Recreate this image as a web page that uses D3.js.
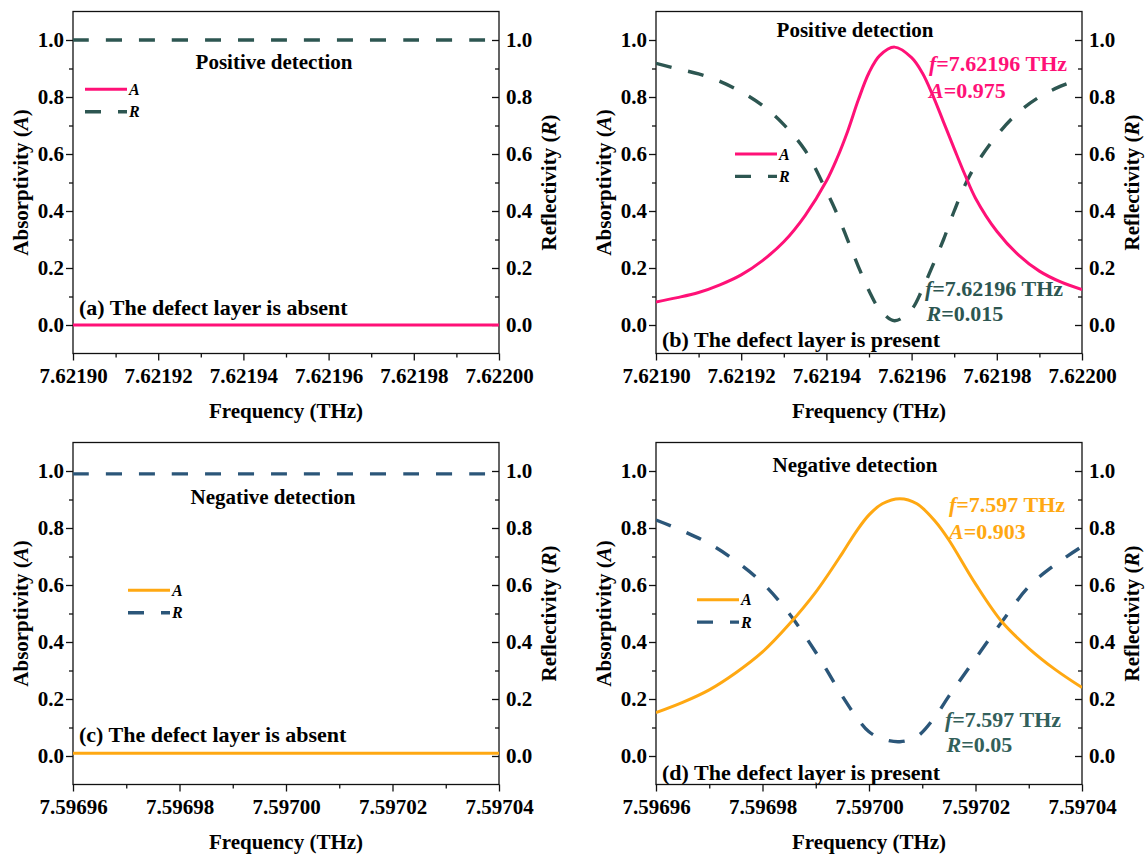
<!DOCTYPE html>
<html>
<head>
<meta charset="utf-8">
<script src="https://cdn.jsdelivr.net/npm/d3@7"></script>
<style>
  body { margin: 0; background: #fff; }
  svg { display: block; }
  text { font-family: "Liberation Serif", "Times New Roman", serif; font-weight: bold; }
</style>
</head>
<body>
<svg id="chart" width="1145" height="855"></svg>
<script>
// ---------- tick labels ----------
const ticksPos = ["7.62190", "7.62192", "7.62194", "7.62196", "7.62198", "7.62200"];
const ticksNeg = ["7.59696", "7.59698", "7.59700", "7.59702", "7.59704"];
const yTickLabels = ["0.0", "0.2", "0.4", "0.6", "0.8", "1.0"];

// ---------- (a) positive detection, defect layer absent ----------
const freqA = [7.62190, 7.62195, 7.62200];
const absA  = [0, 0, 0];
const refA  = [1, 1, 1];

// ---------- (b) positive detection, defect layer present ----------
const freqB = [7.621900, 7.621905, 7.621910, 7.621915, 7.621920, 7.621925, 7.621930, 7.621935,
               7.621940, 7.6219425, 7.621945, 7.6219475, 7.621950, 7.6219525, 7.621956, 7.621960,
               7.6219625, 7.621965, 7.6219675, 7.621970, 7.6219725, 7.621975, 7.621980, 7.621985,
               7.621990, 7.621995, 7.622000];
const absB  = [0.081, 0.096, 0.114, 0.141, 0.176, 0.226, 0.292, 0.384,
               0.505, 0.585, 0.680, 0.790, 0.885, 0.945, 0.975, 0.938,
               0.885, 0.805, 0.712, 0.619, 0.528, 0.445, 0.329, 0.247,
               0.189, 0.151, 0.124];
const refB  = [0.918, 0.899, 0.881, 0.855, 0.818, 0.770, 0.703, 0.613,
               0.470, 0.390, 0.298, 0.205, 0.120, 0.055, 0.015, 0.055,
               0.125, 0.210, 0.300, 0.400, 0.490, 0.560, 0.665, 0.745,
               0.800, 0.838, 0.866];

// ---------- (c) negative detection, defect layer absent ----------
const freqC = [7.59696, 7.59700, 7.59704];
const absC  = [0.01, 0.01, 0.01];
const refC  = [0.99, 0.99, 0.99];

// ---------- (d) negative detection, defect layer present ----------
const freqD = [7.596960, 7.596965, 7.596970, 7.596975, 7.596980, 7.596985, 7.596990, 7.596995,
               7.5969975, 7.597000, 7.5970025, 7.5970058, 7.597009, 7.5970125, 7.597015, 7.597020,
               7.597025, 7.597030, 7.597035, 7.597040];
const absD  = [0.152, 0.188, 0.232, 0.292, 0.365, 0.462, 0.575, 0.712,
               0.785, 0.846, 0.885, 0.903, 0.885, 0.822, 0.758, 0.604,
               0.470, 0.378, 0.303, 0.240];
const refD  = [0.828, 0.790, 0.745, 0.684, 0.607, 0.500, 0.364, 0.210,
               0.140, 0.085, 0.060, 0.050, 0.068, 0.140, 0.210, 0.342,
               0.472, 0.594, 0.672, 0.735];

// ---------- styling ----------
const COL = {
  pink: "#ff1177", teal: "#2d5651", orange: "#ffa812", blue: "#2b5679", tealText: "#33605a"
};
const DASH = "16,17";
const FONT_TICK = 21, FONT_TITLE = 21, FONT_LABEL = 22, FONT_ANN = 22, FONT_LEG = 16;

const svg = d3.select("#chart");
svg.append("rect").attr("width", 1145).attr("height", 855).attr("fill", "#fff");

// rich text helper: parts = [[string, italic], ...]
function richText(g, x, y, parts, size, color, anchor, rotate) {
  const t = g.append("text")
    .attr("x", x).attr("y", y).attr("dy", "0.35em")
    .attr("font-size", size).attr("fill", color || "#000")
    .attr("text-anchor", anchor || "start");
  if (rotate) t.attr("transform", `rotate(${rotate},${x},${y})`);
  parts.forEach(([s, it]) => {
    t.append("tspan").attr("font-style", it ? "italic" : "normal").text(s);
  });
  return t;
}

function midpoints(arr) {
  const out = [];
  for (let i = 0; i < arr.length - 1; i++) out.push((arr[i] + arr[i + 1]) / 2);
  return out;
}

const panels = [
  { key: "a", left: 73, top: 11.5, ticks: ticksPos, freq: freqA, abs: absA, ref: refA,
    cA: COL.pink, cR: COL.teal, title: "Positive detection", titleX: 274, titleY: 62,
    label: "(a) The defect layer is absent", labelX: 79, labelY: 307, legX: 85, legY: 89.3, ann: null },
  { key: "b", left: 656, top: 11.5, ticks: ticksPos, freq: freqB, abs: absB, ref: refB,
    cA: COL.pink, cR: COL.teal, title: "Positive detection", titleX: 855, titleY: 30,
    label: "(b) The defect layer is present", labelX: 662, labelY: 339, legX: 735, legY: 154,
    ann: { fDigits: 5, aDigits: 3, rDigits: 3, aX: 929, aY: 63.3, rX: 925, rY: 288, aColor: COL.pink, rColor: COL.teal } },
  { key: "c", left: 73, top: 442.5, ticks: ticksNeg, freq: freqC, abs: absC, ref: refC,
    cA: COL.orange, cR: COL.blue, title: "Negative detection", titleX: 273, titleY: 496.7,
    label: "(c) The defect layer is absent", labelX: 79, labelY: 734, legX: 128, legY: 590.3, ann: null },
  { key: "d", left: 656, top: 442.5, ticks: ticksNeg, freq: freqD, abs: absD, ref: refD,
    cA: COL.orange, cR: COL.blue, title: "Negative detection", titleX: 855, titleY: 464.5,
    label: "(d) The defect layer is present", labelX: 662, labelY: 772, legX: 697, legY: 599.7,
    ann: { fDigits: 3, aDigits: 3, rDigits: 2, aX: 949, aY: 504.5, rX: 945, rY: 719, aColor: COL.orange, rColor: COL.tealText } }
];

const PW = 426, PH = 342;

panels.forEach(p => {
  const g = svg.append("g");
  const right = p.left + PW, bottom = p.top + PH;
  const tickVals = p.ticks.map(Number);
  const x = d3.scaleLinear().domain([tickVals[0], tickVals[tickVals.length - 1]]).range([p.left, right]);
  const y = d3.scaleLinear().domain([-0.1, 1.1]).range([bottom, p.top]);
  const yVals = yTickLabels.map(Number);

  // clip for the curves
  const clipId = "clip-" + p.key;
  g.append("clipPath").attr("id", clipId).append("rect")
    .attr("x", p.left).attr("y", p.top).attr("width", PW).attr("height", PH);

  // bottom axis (outward ticks)
  const gx = g.append("g").attr("transform", `translate(0,${bottom})`);
  gx.call(d3.axisBottom(x).tickValues(tickVals).tickFormat((d, i) => p.ticks[i])
      .tickSize(7).tickPadding(8).tickSizeOuter(0));
  gx.append("g").call(d3.axisBottom(x).tickValues(midpoints(tickVals)).tickFormat("")
      .tickSize(4).tickSizeOuter(0));

  // left axis (outward ticks)
  const gl = g.append("g").attr("transform", `translate(${p.left},0)`);
  gl.call(d3.axisLeft(y).tickValues(yVals).tickFormat((d, i) => yTickLabels[i])
      .tickSize(7).tickPadding(2).tickSizeOuter(0));
  gl.append("g").call(d3.axisLeft(y).tickValues(midpoints(yVals)).tickFormat("")
      .tickSize(4).tickSizeOuter(0));

  // right axis (inward ticks)
  const gr = g.append("g").attr("transform", `translate(${right},0)`);
  gr.call(d3.axisRight(y).tickValues(yVals).tickFormat((d, i) => yTickLabels[i])
      .tickSize(-7).tickPadding(7).tickSizeOuter(0));
  gr.append("g").call(d3.axisRight(y).tickValues(midpoints(yVals)).tickFormat("")
      .tickSize(-4).tickSizeOuter(0));

  [gx, gl, gr].forEach(a => {
    a.selectAll(".domain").remove();
    a.selectAll("line").attr("stroke", "#111").attr("stroke-width", 1.3);
    a.selectAll("text").attr("font-size", FONT_TICK).attr("fill", "#000")
      .attr("font-family", "'Liberation Serif','Times New Roman',serif").attr("font-weight", "bold");
  });

  // frame
  g.append("rect").attr("x", p.left).attr("y", p.top).attr("width", PW).attr("height", PH)
    .attr("fill", "none").attr("stroke", "#111").attr("stroke-width", 1.3);

  // axis titles
  richText(g, (p.left + right) / 2, bottom + 57.5, [["Frequency (THz)", false]], FONT_TITLE, "#000", "middle");
  richText(g, p.left - 52, (p.top + bottom) / 2, [["Absorptivity (", false], ["A", true], [")", false]],
           FONT_TITLE, "#000", "middle", -90);
  richText(g, right + 50, (p.top + bottom) / 2, [["Reflectivity (", false], ["R", true], [")", false]],
           FONT_TITLE, "#000", "middle", -90);

  // curves
  const pts = p.freq.map((f, i) => ({ f, a: p.abs[i], r: p.ref[i] }));
  const smooth = d3.curveCatmullRom.alpha(0.5);
  const lineA = d3.line().x(d => x(d.f)).y(d => y(d.a)).curve(smooth);
  const lineR = d3.line().x(d => x(d.f)).y(d => y(d.r)).curve(smooth);
  const curves = g.append("g").attr("clip-path", `url(#${clipId})`);
  curves.append("path").datum(pts).attr("d", lineR).attr("fill", "none")
    .attr("stroke", p.cR).attr("stroke-width", 3.4).attr("stroke-dasharray", DASH);
  curves.append("path").datum(pts).attr("d", lineA).attr("fill", "none")
    .attr("stroke", p.cA).attr("stroke-width", 3);

  // panel title and label
  richText(g, p.titleX, p.titleY, [[p.title, false]], FONT_TITLE, "#000", "middle");
  richText(g, p.labelX, p.labelY, [[p.label, false]], FONT_LABEL, "#000", "start");

  // legend
  const lg = g.append("g");
  lg.append("line").attr("x1", p.legX).attr("x2", p.legX + 42).attr("y1", p.legY).attr("y2", p.legY)
    .attr("stroke", p.cA).attr("stroke-width", 3);
  lg.append("line").attr("x1", p.legX).attr("x2", p.legX + 42).attr("y1", p.legY + 22.4).attr("y2", p.legY + 22.4)
    .attr("stroke", p.cR).attr("stroke-width", 3.4).attr("stroke-dasharray", DASH);
  richText(lg, p.legX + 44, p.legY, [["A", true]], FONT_LEG, "#000", "start");
  richText(lg, p.legX + 44, p.legY + 22.4, [["R", true]], FONT_LEG, "#000", "start");

  // peak / dip annotations, taken from the plotted series
  if (p.ann) {
    const iA = d3.maxIndex(p.abs), iR = d3.minIndex(p.ref);
    const an = p.ann;
    richText(g, an.aX, an.aY, [["f", true], ["=" + p.freq[iA].toFixed(an.fDigits) + " THz", false]], FONT_ANN, an.aColor);
    richText(g, an.aX, an.aY + 26.5, [["A", true], ["=" + p.abs[iA].toFixed(an.aDigits), false]], FONT_ANN, an.aColor);
    richText(g, an.rX, an.rY, [["f", true], ["=" + p.freq[iR].toFixed(an.fDigits) + " THz", false]], FONT_ANN, an.rColor);
    richText(g, an.rX + 1.5, an.rY + 25.5, [["R", true], ["=" + p.ref[iR].toFixed(an.rDigits), false]], FONT_ANN, an.rColor);
  }
});
</script>
</body>
</html>
